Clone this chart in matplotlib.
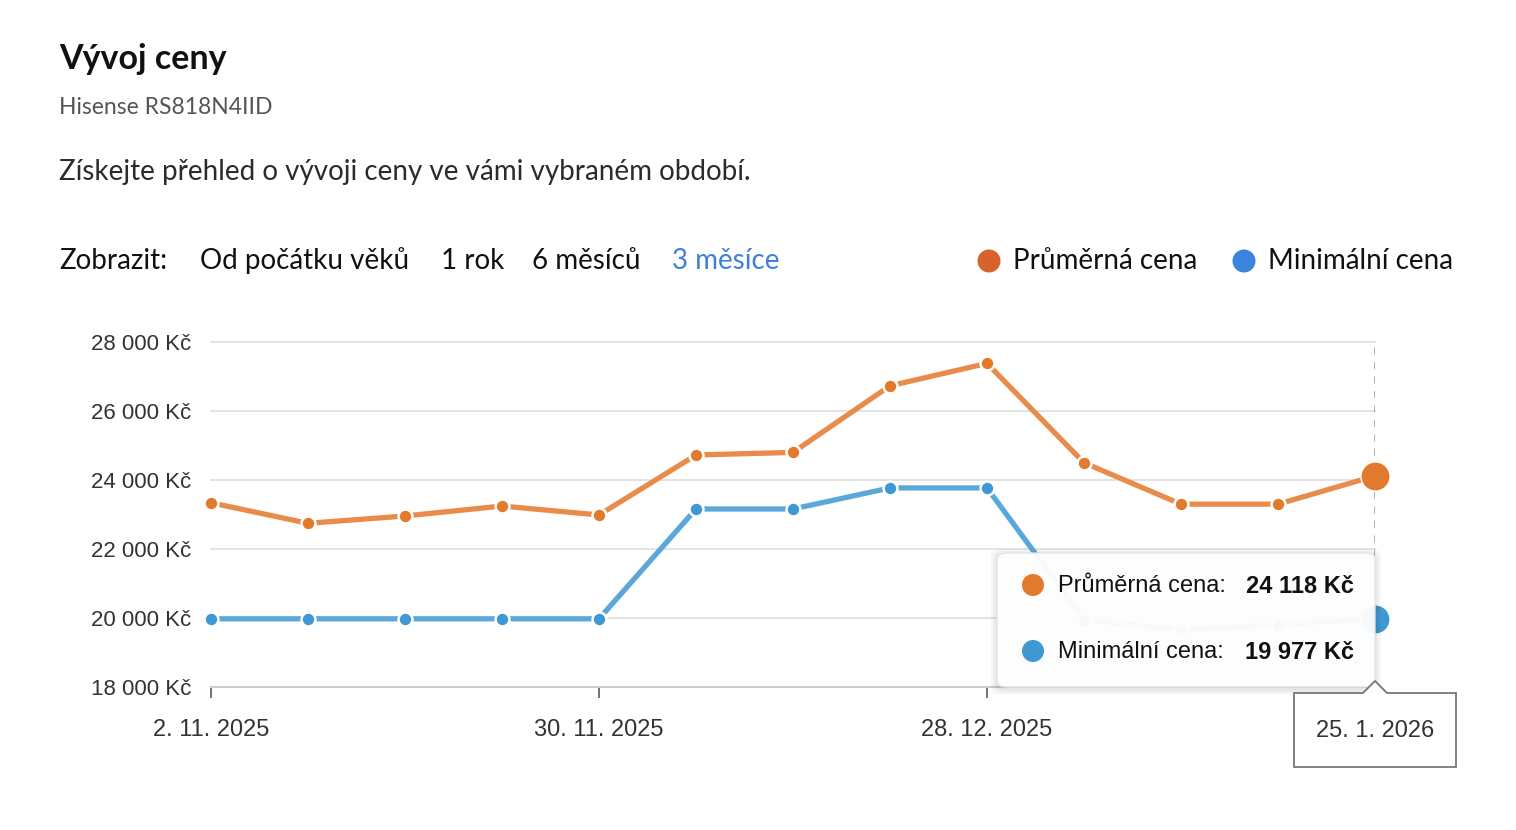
import numpy as np
import pandas as pd
import matplotlib
matplotlib.use("Agg")
import matplotlib.pyplot as plt
from matplotlib.patches import FancyBboxPatch, Ellipse, Polygon

W, H = 1516, 830

# data
week_dates = ['2025-11-02', '2025-11-09', '2025-11-16', '2025-11-23', '2025-11-30',
              '2025-12-07', '2025-12-14', '2025-12-21', '2025-12-28', '2026-01-04',
              '2026-01-11', '2026-01-18', '2026-01-25']
avg_price = [23340, 22745, 22957, 23246, 22986, 24725, 24800, 26730, 27380,
             24500, 23300, 23300, 24118]
min_price = [19977, 19977, 19977, 19977, 19977, 23160, 23160, 23770, 23770,
             19950, 19650, 19800, 19977]
y_ticks = [18000, 20000, 22000, 24000, 26000, 28000]
y_tick_labels = ['18 000 Kč', '20 000 Kč', '22 000 Kč', '24 000 Kč', '26 000 Kč', '28 000 Kč']
x_tick_idx = [0, 4, 8]
x_tick_labels = ['2. 11. 2025', '30. 11. 2025', '28. 12. 2025']
hover_label = '25. 1. 2026'
period_options = ['Od počátku věků', '1 rok', '6 měsíců', '3 měsíce']
series_names = ['Průměrná cena', 'Minimální cena']

dates = pd.to_datetime(week_dates)

ORANGE_LINE = '#E98C4B'
ORANGE_DOT = '#E27A2E'
BLUE_LINE = '#5AA8DA'
BLUE_DOT = '#3F98D2'


def fx(px):
    return px / W


def fy(py):
    return 1 - py / H


def dot(cx, cy, d, col, z=10):
    # round dot in pixel units, placed on the figure
    fig.add_artist(Ellipse((fx(cx), fy(cy)), d / W, d / H, transform=fig.transFigure,
                           facecolor=col, edgecolor='none', zorder=z))


fig = plt.figure(figsize=(W / 100, H / 100), dpi=100)
fig.patch.set_facecolor('white')

# header
fig.text(fx(59), fy(69), 'Vývoj ceny', family='Lato', weight='bold', fontsize=24.5,
         color='#111111', va='baseline')
fig.text(fx(59), fy(114), 'Hisense RS818N4IID', family='Lato', fontsize=16.5,
         color='#555555', va='baseline')
fig.text(fx(59), fy(180), 'Získejte přehled o vývoji ceny ve vámi vybraném období.',
         family='Lato', fontsize=20, color='#2b2b2b', va='baseline')

fig.text(fx(59), fy(269), 'Zobrazit:', family='Lato', fontsize=20, color='#111111', va='baseline')
for x0, label in zip([200, 441, 532, 672], period_options):
    col = '#3B82D6' if label == '3 měsíce' else '#111111'
    fig.text(fx(x0), fy(269), label, family='Lato', fontsize=20, color=col, va='baseline')

for cx, col, label in [(989, '#D8622B', series_names[0]), (1244, '#3B83DC', series_names[1])]:
    dot(cx, 261, 23, col)
    fig.text(fx(cx + 24), fy(269), label, family='Lato', fontsize=20, color='#111111',
             va='baseline')

# chart
ax = fig.add_axes([fx(211), fy(687), (1375 - 211) / W, (687 - 342) / H])
ax.set_xlim(dates[0], dates[-1])
ax.set_ylim(18000, 28000)
ax.set_yticks(y_ticks)
ax.set_yticklabels(y_tick_labels, family='Liberation Sans', fontsize=16, color='#333333')
ax.set_xticks([dates[i] for i in x_tick_idx])
ax.set_xticklabels(x_tick_labels, family='Liberation Sans', fontsize=17, color='#333333')
ax.tick_params(axis='y', length=0, pad=14)
ax.tick_params(axis='x', length=8, width=1.3, color='#666666', pad=15)
for s in ['top', 'left', 'right']:
    ax.spines[s].set_visible(False)
ax.spines['bottom'].set_color('#cccccc')
ax.spines['bottom'].set_linewidth(1.5)
ax.grid(axis='y', color='#e0e0e0', linewidth=1.3)
ax.set_axisbelow(True)
for gl in ax.get_ygridlines():
    gl.set_clip_on(False)

ax.axvline(dates[-1], color='#aaaaaa', lw=1.3, ls=(0, (4, 4)), zorder=1)

for vals, lc, dc in [(min_price, BLUE_LINE, BLUE_DOT), (avg_price, ORANGE_LINE, ORANGE_DOT)]:
    ax.plot(dates, vals, color=lc, lw=3.8, zorder=3, solid_capstyle='round', clip_on=False)
    ax.plot(dates[:-1], vals[:-1], ls='none', marker='o', ms=10, mfc=dc, mec='white',
            mew=1.8, zorder=4, clip_on=False)
    ax.plot(dates[-1:], vals[-1:], ls='none', marker='o', ms=21, mfc=dc, mec='white',
            mew=1.0, zorder=5, clip_on=False)

# tooltip
for i in range(3):
    grow = 2 + 2 * i
    fig.add_artist(FancyBboxPatch((fx(997 - grow), fy(687 + grow + 2)),
                                  (378 + 2 * grow) / W, (134 + 2 * grow) / H,
                                  boxstyle='round,pad=0,rounding_size=0.008',
                                  transform=fig.transFigure, facecolor='black', alpha=0.03,
                                  edgecolor='none', zorder=9))
fig.add_artist(FancyBboxPatch((fx(997), fy(687)), 378 / W, 134 / H,
                              boxstyle='round,pad=0,rounding_size=0.007',
                              transform=fig.transFigure, facecolor='white', alpha=0.96,
                              edgecolor='#e4e4e4', lw=1.0, zorder=10))
rows = [(585, ORANGE_DOT, series_names[0] + ':', avg_price[-1]),
        (651, BLUE_DOT, series_names[1] + ':', min_price[-1])]
for y0, col, label, v in rows:
    dot(1033, y0, 22, col, z=11)
    fig.text(fx(1058), fy(y0 + 1), label, family='Liberation Sans', fontsize=17,
             color='#111111', va='center', zorder=11)
    txt = f'{v:,}'.replace(',', ' ') + ' Kč'
    fig.text(fx(1354), fy(y0 + 1), txt, family='Liberation Sans', weight='bold', fontsize=17,
             color='#111111', va='center', ha='right', zorder=11)

# hovered date label
box = [(1294, 693), (1363, 693), (1375, 681), (1387, 693), (1456, 693),
       (1456, 767), (1294, 767)]
fig.add_artist(Polygon([(fx(x), fy(y)) for x, y in box], closed=True,
                       transform=fig.transFigure, facecolor='white', edgecolor='#777777',
                       lw=1.3, zorder=12))
fig.text(fx(1375), fy(731), hover_label, family='Liberation Sans', fontsize=17,
         color='#333333', ha='center', va='center', zorder=13)

fig.savefig('out.png', dpi=100)
